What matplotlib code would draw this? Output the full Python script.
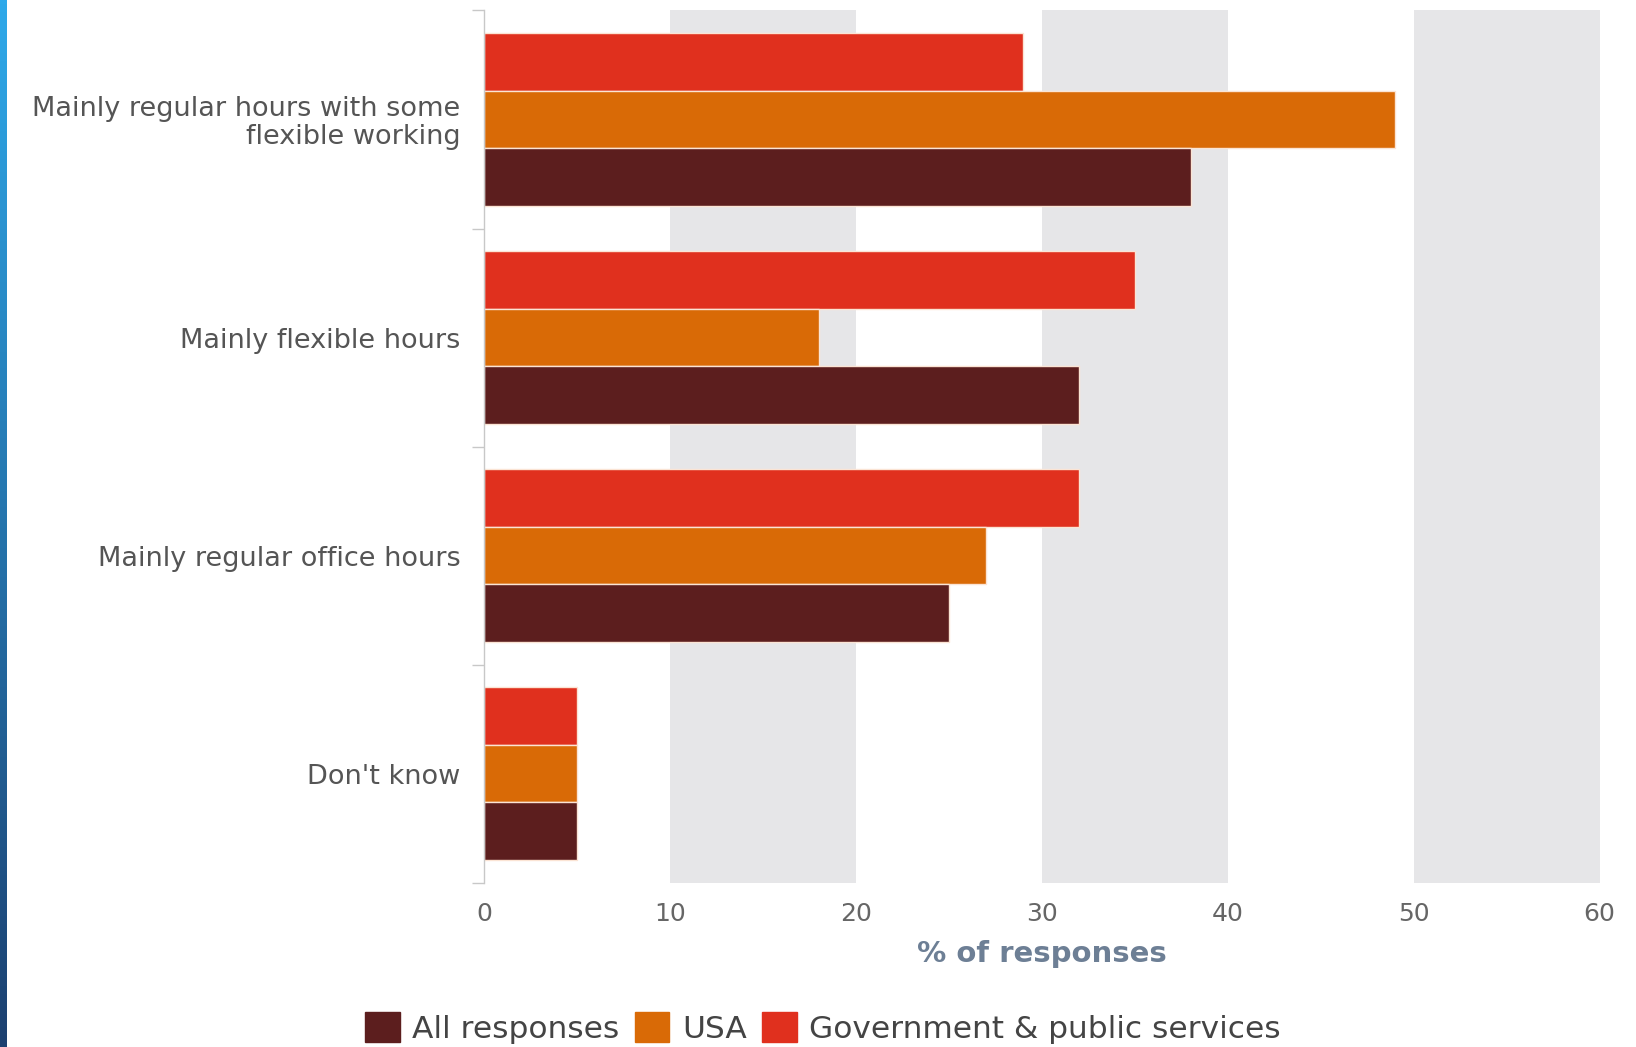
import numpy as np
import matplotlib
matplotlib.use("Agg")
import matplotlib.pyplot as plt
from matplotlib.patches import Patch

# data
categories = ["Mainly regular hours with some\nflexible working",
              "Mainly flexible hours",
              "Mainly regular office hours",
              "Don't know"]
all_responses = [38, 32, 25, 5]
usa = [49, 18, 27, 5]
government = [29, 35, 32, 5]
series_names = ["All responses", "USA", "Government & public services"]
colors = ["#5c1e1e", "#d96a06", "#e0301e"]
xticks = [0, 10, 20, 30, 40, 50, 60]

fig = plt.figure(figsize=(16.36, 10.47), dpi=100)

# blue stripe at left edge
sax = fig.add_axes([0, 0, 0.0038, 1])
grad = np.linspace(0, 1, 256).reshape(-1, 1)
cmap = matplotlib.colors.LinearSegmentedColormap.from_list("s", ["#2ea9ea", "#1c4070"])
sax.imshow(grad, aspect="auto", cmap=cmap)
sax.axis("off")

ax = fig.add_axes([0.2958, 0.157, 0.682, 0.833])

# alternating bands
for lo in [10, 30, 50]:
    ax.axvspan(lo, lo + 10, color="#e6e6e8", zorder=0, lw=0)

y = np.arange(len(categories))
h = 0.265
ax.barh(y - h, government, height=h, color=colors[2], edgecolor="#fbe4d4", linewidth=1, zorder=2)
ax.barh(y, usa, height=h, color=colors[1], edgecolor="#fbe4d4", linewidth=1, zorder=2)
ax.barh(y + h, all_responses, height=h, color=colors[0], edgecolor="#fbe4d4", linewidth=1, zorder=2)

ax.set_xlim(0, 60)
ax.set_ylim(len(categories) - 0.5, -0.5)

ax.set_yticks(y)
ax.set_yticklabels(categories, fontsize=19.5, color="#555555", linespacing=1.1)
ax.set_yticks(np.arange(-0.5, len(categories), 1), minor=True)
ax.tick_params(axis="y", which="major", length=0, pad=17)
ax.tick_params(axis="y", which="minor", length=9, color="#c8c8c8", width=1)

ax.set_xticks(xticks)
ax.set_xticklabels([str(v) for v in xticks], fontsize=18, color="#666666")
ax.tick_params(axis="x", length=0, pad=14)
ax.set_xlabel("% of responses", fontsize=21, fontweight="bold", color="#6d7f95", labelpad=10)

for s in ["top", "right", "bottom"]:
    ax.spines[s].set_visible(False)
ax.spines["left"].set_color("#c8c8c8")
ax.spines["left"].set_linewidth(1)

handles = [Patch(facecolor=c, edgecolor=c) for c in colors]
fig.legend(handles, series_names, loc="center", bbox_to_anchor=(0.503, 0.018),
           ncol=3, frameon=False, fontsize=22.5, handlelength=1.1, handleheight=1.1,
           handletextpad=0.4, columnspacing=0.5, labelcolor="#444444")

fig.savefig("out.png", dpi=100, facecolor="white")
